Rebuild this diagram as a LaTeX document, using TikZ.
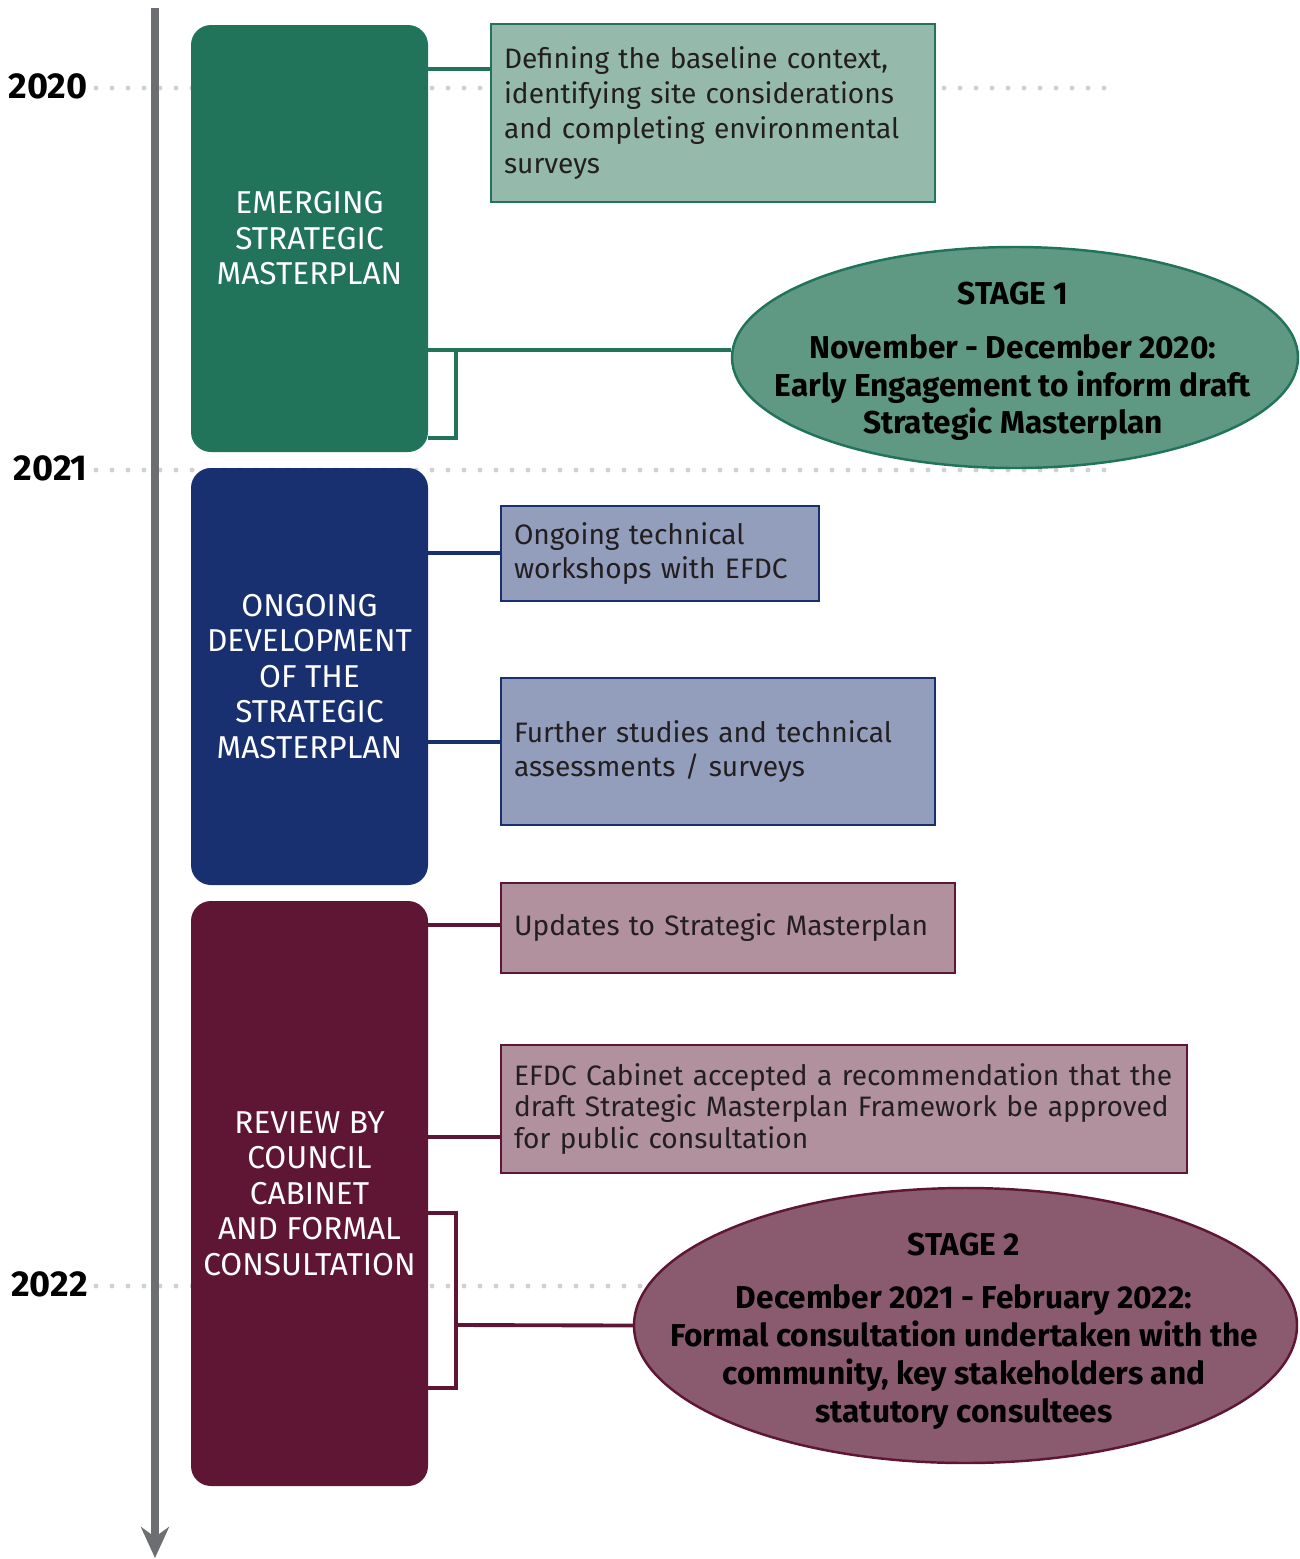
\documentclass[tikz,border=0pt]{standalone}
\usepackage{fontspec}
\setmainfont{Fira Sans}
\usepackage{xcolor}
\usetikzlibrary{positioning,shapes.geometric,arrows.meta}
\newdimen\pxu
\pxu=0.02cm
\definecolor{axisgray}{HTML}{6D6E71}
\definecolor{dotgray}{HTML}{D1D2D4}
\definecolor{txtgray}{HTML}{231F20}
\definecolor{grDark}{HTML}{21735A}
\definecolor{grLight}{HTML}{95BAAC}
\definecolor{grMid}{HTML}{5F9883}
\definecolor{blDark}{HTML}{182F70}
\definecolor{blLight}{HTML}{939DBC}
\definecolor{mrDark}{HTML}{5E1634}
\definecolor{mrLight}{HTML}{B0919D}
\definecolor{mrMid}{HTML}{8A5B6E}

\begin{document}
\begin{tikzpicture}[
    x=0.02cm, y=-0.02cm,
    year/.style={%
      anchor=east,
      inner sep=0pt,
      font=\bfseries\fontsize{20.5}{24}\selectfont,
    },
    yearline/.style={%
      dotgray,
      line width=5*\pxu,
      line cap=round,
      dash pattern=on 0pt off 16*\pxu,
    },
    block/.style={%
      rectangle,
      rounded corners=0.4cm,
      minimum width=237*\pxu,
      inner sep=0pt,
      align=center,
      text=white,
      font=\fontsize{18}{20.2}\selectfont,
    },
    box/.style={%
      draw,
      rectangle,
      line width=1.6pt,
      inner xsep=13*\pxu,
      inner ysep=0pt,
      align=left,
      text=txtgray,
      font=\fontsize{16}{19.8}\selectfont,
    },
    stage/.style={%
      draw,
      ellipse,
      line width=1.4pt,
      inner sep=0pt,
    },
    stagetext/.style={%
      inner sep=0pt,
      align=center,
      text=black,
      font=\bfseries\fontsize{18}{21.5}\selectfont,
    },
    link/.style={%
      line width=2.2pt,
      line join=miter,
    },
  ]

    \useasboundingbox (0,0) rectangle (1299,1559);

    % years
    \node [year] (y2020) at (88,86) {2020};
    \node [year] (y2021) at (88,468) {2021};
    \node [year] (y2022) at (88,1284) {2022};
    \draw [yearline] (y2020.east) ++(8,2) -- ++(1010,0);
    \draw [yearline] (y2021.east) ++(8,2) -- ++(1010,0);
    \draw [yearline] (y2022.east) ++(8,2) -- ++(1010,0);

    % time axis
    \coordinate (top) at (155,8);
    \coordinate (bottom) at (155,1558);
    \draw [axisgray, line width=8*\pxu,
      -{Stealth[length=0.62cm, width=0.56cm, inset=0.2cm]}] (top) -- (bottom);

    % stages
    \node [block, fill=grDark, minimum height=427*\pxu] (emerging) at (309.5,238.5)
      {EMERGING\\STRATEGIC\\MASTERPLAN};
    \node [block, fill=blDark, minimum height=417*\pxu] (ongoing) at (309.5,676.5)
      {ONGOING\\DEVELOPMENT\\OF THE\\STRATEGIC\\MASTERPLAN};
    \node [block, fill=mrDark, minimum height=585*\pxu] (review) at (309.5,1193.5)
      {REVIEW BY\\COUNCIL\\CABINET\\AND FORMAL\\CONSULTATION};

    % tasks
    \node [box, draw=grDark, fill=grLight, text width=8.36cm, minimum height=178*\pxu]
      (baseline) at (713,113)
      {Defining the baseline context,\\identifying site considerations\\and completing environmental\\surveys};
    \node [box, draw=blDark, fill=blLight, text width=5.84cm, minimum height=95*\pxu]
      (workshops) at (660,553.5)
      {Ongoing technical\\workshops with EFDC};
    \node [box, draw=blDark, fill=blLight, text width=8.16cm, minimum height=147*\pxu]
      (studies) at (718,751.5)
      {Further studies and technical\\assessments / surveys};
    \node [box, draw=mrDark, fill=mrLight, text width=8.56cm, minimum height=90*\pxu]
      (updates) at (728,928)
      {Updates to Strategic Masterplan};
    \node [box, draw=mrDark, fill=mrLight, text width=13.2cm, minimum height=128*\pxu,
      font=\fontsize{16}{18}\selectfont]
      (cabinet) at (844,1109)
      {EFDC Cabinet accepted a recommendation that the\\draft Strategic Masterplan Framework be approved\\for public consultation};

    % engagement
    \node [stage, draw=grDark, fill=grMid, minimum width=566*\pxu, minimum height=221*\pxu]
      (stage1) at (1015,357.5) {};
    \node [stagetext] (stage1text) at (1013,361.5)
      {STAGE 1\\[16*\pxu]November - December 2020:\\Early Engagement to inform draft\\Strategic Masterplan};
    \node [stage, draw=mrDark, fill=mrMid, minimum width=663*\pxu, minimum height=275*\pxu]
      (stage2) at (965.5,1325.5) {};
    \node [stagetext] (stage2text) at (964,1331)
      {STAGE 2\\[16*\pxu]December 2021 - February 2022:\\Formal consultation undertaken with the\\community, key stakeholders and\\statutory consultees};

    % links
    \draw [link, grDark] (emerging.east |- 0,69) -- (baseline.west |- 0,69);
    \draw [link, grDark] (emerging.east |- 0,350) -- (stage1.west |- 0,350);
    \draw [link, grDark] (emerging.east |- 0,438) -| (456,350);
    \draw [link, blDark] (ongoing.east |- 0,553) -- (workshops.west |- 0,553);
    \draw [link, blDark] (ongoing.east |- 0,742) -- (studies.west |- 0,742);
    \draw [link, mrDark] (review.east |- 0,925) -- (updates.west |- 0,925);
    \draw [link, mrDark] (review.east |- 0,1137) -- (cabinet.west |- 0,1137);
    \draw [link, mrDark] (review.east |- 0,1213) -| (456,1388) -- (review.east |- 0,1388);
    \draw [link, mrDark] (456,1325) -- (stage2.west);
\end{tikzpicture}
\end{document}
